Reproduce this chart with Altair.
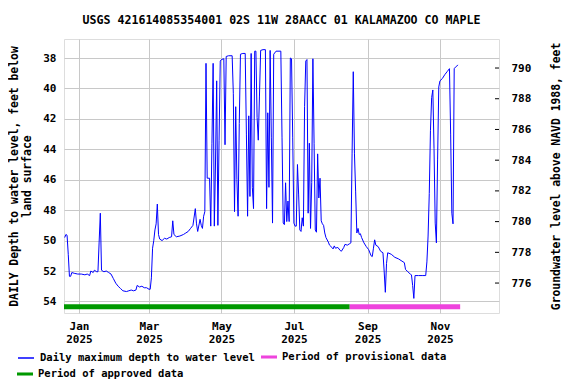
import altair as alt
import pandas as pd

TITLE = "USGS 421614085354001 02S 11W 28AACC 01 KALAMAZOO CO MAPLE"
LINE_LABEL = "Daily maximum depth to water level"
PROV_LABEL = "Period of provisional data"
APPR_LABEL = "Period of approved data"
BLUE, PINK, GREEN = "#0000ff", "#ee44dd", "#009900"
FONT = "DejaVu Sans Mono"
BAR_SYMBOL = "M-1,-0.19H1V0.19H-1Z"

# (day offset from 2025-01-01, depth below land surface, ft)
winter_obs = [
    (-12, 49.8), (-11, 49.6), (-10, 49.65), (-9, 50.9), (-8, 52.35), (-7, 52.35), (-6, 52.1), (-4, 52.15), (-1, 52.2), (2, 52.2),
    (5, 52.25), (7, 52.2), (9, 52.3), (10, 52.0), (12, 52.1), (13, 51.95), (15, 52.05), (16, 52.05), (17, 50.1), (18, 48.2),
    (19, 51.95), (21, 52.05), (23, 52.0), (25, 52.1), (27, 52.2), (29, 52.5), (31, 52.8), (33, 53.0), (35, 53.15), (37, 53.3),
    (40, 53.35), (42, 53.3), (44, 53.25), (46, 53.3), (48, 53.25), (49, 52.95), (51, 53.05), (53, 53.0), (55, 53.1), (57, 53.1),
    (59, 53.2), (60, 53.2),
]
spring_obs = [
    (61, 52.45), (62, 50.5), (63, 50.0), (64, 49.3), (65, 48.9), (66, 47.6), (67, 49.6), (68, 49.9),
    (70, 50.0), (72, 49.85), (74, 49.9), (76, 49.8), (78, 49.75), (79, 48.7), (80, 49.6), (82, 49.75), (85, 49.7), (88, 49.6),
    (90, 49.5), (92, 49.4), (94, 49.2), (96, 49.0), (98, 47.9), (99, 48.9), (100, 49.4), (102, 48.6), (103, 49.0), (104, 49.2),
    (105, 48.4), (106, 48.1), (107, 38.35), (108, 45.9), (110, 45.9), (111, 49.05), (112, 43.6), (113, 38.35), (114, 49.05), (115, 44.9),
    (116, 39.5), (117, 49.0), (118, 43.4), (119, 38.2), (120, 38.1), (122, 38.05), (123, 43.7), (124, 37.9), (126, 37.85), (129, 37.85),
    (130, 40.35), (131, 48.1), (132, 41.2), (133, 46.0), (134, 48.4), (135, 42.3), (136, 37.75), (138, 37.7), (140, 37.7), (141, 43.0),
    (142, 48.4), (143, 41.8), (144, 47.1), (145, 37.7), (146, 46.5), (147, 47.9), (148, 37.55), (149, 37.55), (150, 41.9), (151, 43.4),
]
summer_obs = [
    (152, 40.5), (153, 37.5), (155, 37.45), (157, 37.45), (158, 47.9), (159, 41.6), (160, 46.5), (161, 37.5), (162, 43.2), (163, 48.85),
    (164, 37.75), (166, 37.55), (170, 37.55), (171, 43.2), (172, 48.85), (173, 48.95), (174, 46.2), (175, 48.75), (176, 47.4), (177, 48.75),
    (178, 38.0), (179, 38.05), (180, 43.2), (181, 48.85), (182, 49.05), (183, 49.05), (184, 45.0), (185, 47.0), (186, 49.3), (187, 49.4),
    (188, 48.5), (189, 49.05), (190, 41.2), (191, 38.2), (192, 38.1), (193, 48.2), (194, 43.6), (195, 49.2), (196, 46.2), (197, 38.05),
    (198, 43.6), (199, 49.3), (200, 49.45), (201, 44.3), (202, 47.2), (203, 45.9), (204, 48.7), (205, 48.9), (206, 49.0), (207, 49.5),
    (208, 49.8), (210, 50.1), (211, 50.3), (213, 50.45), (214, 50.55), (215, 50.35), (216, 50.5), (218, 50.45), (220, 50.65), (221, 50.7),
    (223, 50.45), (224, 50.25), (226, 50.3), (228, 50.2), (229, 50.15), (230, 44.3), (231, 38.9), (232, 44.3), (233, 46.8), (234, 49.5),
]
autumn_obs = [
    (235, 49.2), (236, 49.6), (237, 49.55), (238, 49.8), (240, 50.15), (242, 50.4), (244, 50.6), (246, 51.0), (247, 51.05), (248, 50.5),
    (249, 49.95), (250, 50.3), (252, 50.4), (254, 50.7), (256, 50.8), (257, 52.0), (258, 53.4), (259, 51.5), (260, 50.8), (263, 50.9),
    (266, 51.1), (269, 51.2), (272, 51.35), (274, 51.45), (275, 51.9), (277, 52.05), (279, 52.2), (280, 52.25), (281, 52.95), (282, 53.8),
    (283, 52.3), (286, 52.3), (289, 52.3), (292, 52.3), (293, 51.4), (294, 49.7), (295, 46.9), (296, 42.75), (297, 40.6), (298, 40.1),
    (299, 43.95), (300, 48.85), (301, 50.15), (302, 44.7), (303, 39.9), (304, 39.5), (306, 39.35), (308, 39.1), (310, 38.9), (312, 38.7),
    (313, 43.0), (314, 48.2), (315, 48.9), (316, 38.7), (317, 38.6), (318, 38.55), (319, 38.45),
]

approved_period = ["2024-12-19T00:00:00", "2025-08-17T00:00:00"]
provisional_period = ["2025-08-17T00:00:00", "2025-11-18T00:00:00"]
period_depth = 54.35

depth_ticks = [38, 40, 42, 44, 46, 48, 50, 52, 54]
elev_ticks = [776, 778, 780, 782, 784, 786, 788, 790]
month_starts = [(2025, 1), (2025, 3), (2025, 5), (2025, 7), (2025, 9), (2025, 11)]

base = pd.Timestamp("2025-01-01")
obs = winter_obs + spring_obs + summer_obs + autumn_obs
line_df = pd.DataFrame({
    "date": [(base + pd.Timedelta(days=d)).strftime("%Y-%m-%dT%H:%M:%S") for d, _ in obs],
    "depth": [v for _, v in obs],
    "series": LINE_LABEL,
})
appr_df = pd.DataFrame({"start": [approved_period[0]], "end": [approved_period[1]],
                        "depth": [period_depth], "series": [APPR_LABEL]})
prov_df = pd.DataFrame({"start": [provisional_period[0]], "end": [provisional_period[1]],
                        "depth": [period_depth], "series": [PROV_LABEL]})
elev_df = pd.DataFrame({"elev": elev_ticks})

x_scale = alt.Scale(domain=[alt.DateTime(year=2024, month=12, date=19, hours=10),
                            alt.DateTime(year=2025, month=12, date=20, hours=17)], padding=0)
y_scale = alt.Scale(domain=[36.75, 54.76], reverse=True, nice=False, zero=False, padding=0)


def make_legend(x, y, symbol, stroke_width, **extra):
    return alt.Legend(title=None, orient="none", legendX=x, legendY=y,
                      symbolType=symbol, symbolSize=256, symbolStrokeWidth=stroke_width,
                      labelOffset=5, labelFont=FONT, labelFontSize=10.5, labelFontWeight="bold",
                      labelColor="black", padding=0, labelLimit=400, **extra)


x_axis = alt.Axis(title=None, values=[alt.DateTime(year=y, month=m, date=1) for y, m in month_starts],
                  labelExpr="[timeFormat(datum.value, '%b'), timeFormat(datum.value, '%Y')]",
                  grid=True, gridColor="#c8c8c8", ticks=False, domain=False, labelOverlap=False,
                  labelPadding=7, labelFont=FONT, labelFontSize=11, labelFontWeight="bold",
                  labelColor="black", labelLineHeight=13)
y_axis = alt.Axis(title=["DAILY Depth to water level, feet below", "land surface"],
                  values=depth_ticks, grid=True, gridColor="#c8c8c8", ticks=False, domain=False,
                  labelOverlap=False,
                  labelPadding=8, labelFont=FONT, labelFontSize=11, labelFontWeight="bold",
                  labelColor="black", titleFont=FONT, titleFontSize=11.4, titleFontWeight="bold",
                  titleColor="black", titleLineHeight=13, titlePadding=10)

line = alt.Chart(line_df).mark_line(clip=True, strokeWidth=1).encode(
    x=alt.X("date:T", scale=x_scale, axis=x_axis),
    y=alt.Y("depth:Q", scale=y_scale, axis=y_axis),
    color=alt.Color("series:N", scale=alt.Scale(domain=[LINE_LABEL], range=[BLUE]),
                    legend=make_legend(-47, 310, "stroke", 1.5, symbolStrokeColor=BLUE)),
)
appr = alt.Chart(appr_df).mark_bar(clip=True, height=5).encode(
    x=alt.X("start:T", scale=x_scale, axis=x_axis),
    x2="end:T",
    y=alt.Y("depth:Q", scale=y_scale, axis=y_axis),
    fill=alt.Fill("series:N", scale=alt.Scale(domain=[APPR_LABEL], range=[GREEN]),
                  legend=make_legend(-47, 327, BAR_SYMBOL, 0)),
)
prov = alt.Chart(prov_df).mark_bar(clip=True, height=5, fill=PINK, strokeWidth=0).encode(
    x=alt.X("start:T", scale=x_scale, axis=x_axis),
    x2="end:T",
    y=alt.Y("depth:Q", scale=y_scale, axis=y_axis),
    stroke=alt.Stroke("series:N", scale=alt.Scale(domain=[PROV_LABEL], range=[PINK]),
                      legend=make_legend(197, 310, BAR_SYMBOL, 0, symbolFillColor=PINK)),
)
right = alt.Chart(elev_df).mark_rule(color="black").encode(
    y=alt.Y("elev:Q", scale=alt.Scale(domain=[774.05, 791.89], nice=False, zero=False),
            axis=alt.Axis(orient="right", values=elev_ticks, title="Groundwater level above NAVD 1988, feet",
                          ticks=False, grid=False, domain=False, labelPadding=12, labelOverlap=False,
                          labelFont=FONT, labelFontSize=11, labelFontWeight="bold", labelColor="black",
                          titleFont=FONT, titleFontSize=11.4, titleFontWeight="bold", titleColor="black",
                          titleAngle=270, titlePadding=31)),
    x=alt.value(431), x2=alt.value(435),
)

chart = alt.layer(alt.layer(line, appr, prov), right).resolve_scale(y="independent").properties(
    width=435, height=274,
    padding={"left": 56, "top": 31, "right": 69, "bottom": 67},
    autosize=alt.AutoSizeParams(type="none"),
    title=alt.TitleParams(TITLE, font=FONT, fontSize=11.6, fontWeight="bold", color="black",
                          anchor="middle", offset=12),
).configure_view(stroke="black", strokeWidth=1).configure(background="white")

chart.save("out.html", embed_options={"renderer": "svg", "actions": False})
